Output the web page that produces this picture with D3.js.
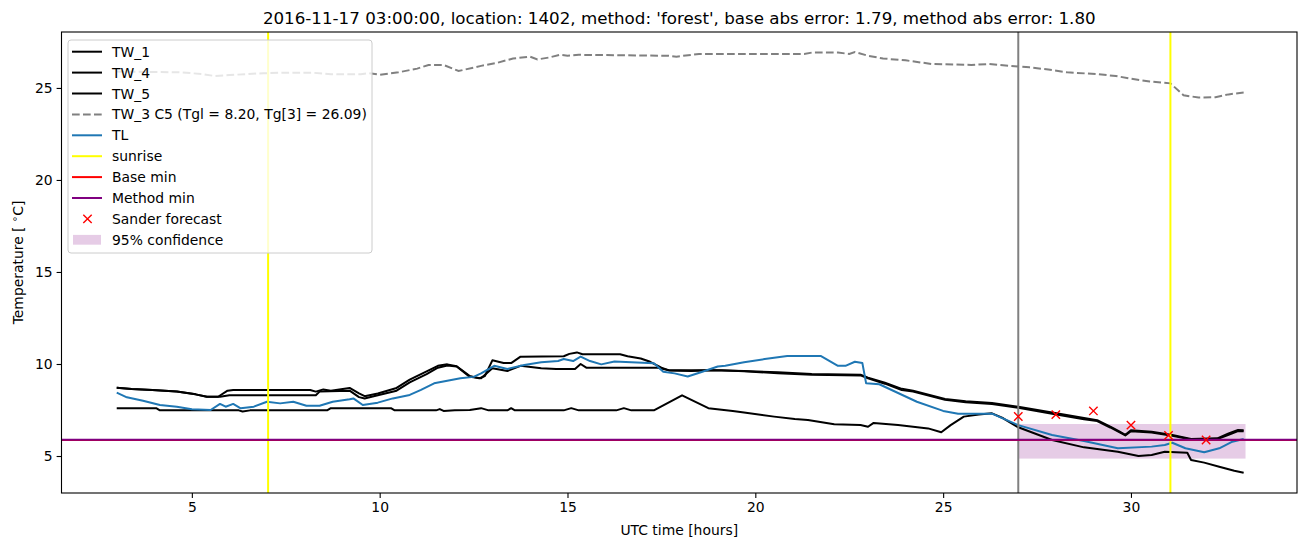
<!DOCTYPE html>
<html>
<head>
<meta charset="utf-8">
<script src="https://cdn.jsdelivr.net/npm/d3@7"></script>
<style>
  body { margin: 0; background: #fff; }
  svg { font-family: "DejaVu Sans", sans-serif; }
</style>
</head>
<body>
<script>
// data, [hour, temperature]
var tw1 = [[3,8.71],[3.4,8.64],[3.95,8.59],[4.6,8.5],[5.1,8.35],[5.4,8.22],[5.7,8.22],[5.95,8.55],[6.1,8.59],[8.15,8.59],[8.3,8.5],[8.5,8.62],[8.7,8.55],[9.2,8.7],[9.45,8.4],[9.6,8.25],[9.95,8.4],[10.45,8.7],[10.8,9.15],[11.25,9.6],[11.55,9.9],[11.8,9.98],[12.05,9.88],[12.4,9.35],[12.65,9.22],[12.8,9.35],[13.0,10.2],[13.3,10.05],[13.5,10.05],[13.75,10.4],[14.9,10.42],[15.05,10.55],[15.25,10.63],[15.4,10.53],[16.4,10.53],[16.6,10.42],[16.95,10.3],[17.2,10.12],[17.5,9.8],[17.7,9.65],[18.3,9.62],[18.8,9.66],[19.7,9.62],[20.6,9.55],[21.5,9.46],[22.8,9.42],[23.0,9.26],[23.45,8.98],[23.9,8.65],[24.2,8.55],[25.05,8.1],[25.6,7.97],[26.3,7.88],[27.0,7.68],[27.9,7.36],[28.75,7.06],[29.1,6.95],[29.45,6.6],[29.7,6.32],[29.85,6.15],[30.0,6.4],[30.55,6.32],[31.1,6.14],[31.6,5.92],[32.3,5.96],[32.6,6.23],[32.85,6.42],[33.0,6.4]];
var tw4 = [[3,8.71],[3.4,8.64],[3.95,8.59],[4.6,8.5],[5.1,8.35],[5.4,8.22],[5.75,8.22],[6.0,8.3],[8.3,8.3],[8.4,8.5],[9.2,8.55],[9.45,8.2],[9.6,8.13],[9.95,8.3],[10.45,8.55],[10.8,9.0],[11.25,9.45],[11.55,9.8],[11.8,9.92],[12.05,9.86],[12.4,9.3],[12.7,9.22],[13.0,9.77],[13.4,9.62],[13.75,9.9],[14.3,9.77],[14.7,9.73],[15.2,9.73],[15.35,10.0],[15.5,9.8],[17.4,9.8],[17.7,9.66],[19.1,9.66],[19.7,9.6],[20.6,9.5],[21.5,9.42],[22.8,9.38],[23.0,9.22],[23.45,8.93],[23.9,8.58],[24.2,8.5],[25.05,8.05],[25.6,7.92],[26.3,7.82],[27.0,7.62],[27.9,7.3],[28.75,7.0],[29.1,6.9],[29.45,6.55],[29.7,6.28],[29.85,6.12],[30.0,6.35],[30.55,6.28],[31.1,6.1],[31.6,5.9],[32.3,5.92],[32.6,6.15],[32.85,6.35],[33.0,6.35]];
var tw5 = [[3,7.6],[4.05,7.6],[4.15,7.48],[6.25,7.48],[6.35,7.42],[6.55,7.48],[8.6,7.48],[8.7,7.6],[10.3,7.6],[10.4,7.48],[11.5,7.48],[11.6,7.55],[11.7,7.45],[12.0,7.48],[12.4,7.5],[12.7,7.6],[12.9,7.48],[13.4,7.48],[13.5,7.6],[13.6,7.48],[14.9,7.48],[15.1,7.6],[15.3,7.48],[16.3,7.48],[16.5,7.6],[16.7,7.48],[17.3,7.48],[18.05,8.3],[18.75,7.6],[19.4,7.45],[19.7,7.36],[20.5,7.14],[21.05,7.01],[21.4,6.96],[22.1,6.72],[22.8,6.68],[23.0,6.59],[23.15,6.8],[23.8,6.68],[24.6,6.5],[24.95,6.29],[25.2,6.68],[25.55,7.14],[25.95,7.25],[26.3,7.32],[26.6,7.05],[27.0,6.56],[27.9,5.87],[28.75,5.47],[29.65,5.23],[30.2,5.0],[30.55,5.05],[30.9,5.23],[31.5,5.18],[31.6,4.78],[31.95,4.64],[32.35,4.42],[32.75,4.2],[33.0,4.09]];
var tw3 = [[3,25.89],[4.7,25.85],[5.3,25.75],[5.6,25.65],[6.0,25.7],[6.9,25.8],[7.3,25.82],[8.2,25.83],[8.7,25.74],[9.5,25.74],[9.7,25.8],[10.0,25.72],[10.5,25.85],[11.0,26.05],[11.3,26.25],[11.7,26.25],[12.1,25.92],[12.7,26.2],[13.1,26.35],[13.55,26.6],[14.0,26.7],[14.2,26.55],[14.5,26.65],[14.8,26.8],[15.0,26.75],[15.3,26.8],[17.7,26.75],[17.9,26.7],[18.5,26.85],[21.3,26.85],[21.5,26.92],[22.2,26.92],[22.5,26.85],[22.65,26.95],[23.0,26.75],[23.4,26.6],[24.0,26.5],[24.7,26.3],[25.75,26.25],[26.2,26.3],[26.8,26.2],[27.3,26.12],[27.8,26.0],[28.3,25.85],[29.1,25.75],[29.6,25.65],[30.0,25.5],[30.5,25.35],[31.05,25.25],[31.4,24.6],[31.8,24.48],[32.25,24.5],[32.6,24.65],[33.0,24.75]];
var tl = [[3,8.44],[3.27,8.19],[3.7,8.0],[4.15,7.77],[4.6,7.68],[5.0,7.54],[5.5,7.5],[5.75,7.83],[5.9,7.68],[6.1,7.83],[6.3,7.59],[6.65,7.68],[7.0,7.95],[7.35,7.86],[7.7,7.95],[8.05,7.73],[8.4,7.73],[8.75,7.95],[9.2,8.08],[9.3,8.13],[9.55,7.77],[9.95,7.9],[10.35,8.13],[10.8,8.32],[11.1,8.59],[11.45,8.95],[11.8,9.09],[12.15,9.22],[12.5,9.3],[12.7,9.49],[13.05,9.9],[13.4,9.73],[13.85,9.95],[14.3,10.09],[14.75,10.16],[14.9,10.27],[15.15,10.16],[15.35,10.4],[15.6,10.16],[15.9,9.98],[16.25,10.13],[17.3,10.04],[17.55,9.58],[17.85,9.49],[18.2,9.32],[18.55,9.55],[19.0,9.86],[19.2,9.9],[19.7,10.09],[20.25,10.27],[20.85,10.43],[21.75,10.43],[22.2,9.9],[22.4,9.9],[22.65,10.12],[22.85,10.05],[22.95,8.95],[23.3,8.9],[24.3,7.95],[25.0,7.45],[25.4,7.3],[26.3,7.3],[27.0,6.68],[27.9,6.14],[28.75,5.82],[29.65,5.42],[30.55,5.51],[30.9,5.6],[31.1,5.72],[31.45,5.42],[31.95,5.2],[32.35,5.42],[32.7,5.78],[33.0,5.92]];

var forecastHours = [27, 28, 29, 30, 31, 32];
var forecastTemps = [7.15, 7.25, 7.45, 6.68, 6.12, 5.87];
var sunrise = [7.03, 31.05];
var nowHour = 27;
var baseMin = 5.87;
var methodMin = 5.88;
var confidence = { from: 27, to: 33.05, low: 4.86, high: 6.74 };

var xTicks = [5, 10, 15, 20, 25, 30];
var yTicks = [5, 10, 15, 20, 25];

var titleText = "2016-11-17 03:00:00, location: 1402, method: 'forest', base abs error: 1.79, method abs error: 1.80";
var legendLabels = ["TW_1", "TW_4", "TW_5", "TW_3 C5 (Tgl = 8.20, Tg[3] = 26.09)", "TL", "sunrise", "Base min", "Method min", "Sander forecast", "95% confidence"];

//setup
var W = 1310, H = 547;
var margin = { top: 32, bottom: 54, right: 13, left: 61.5 };
var width = W - margin.left - margin.right;
var height = H - margin.top - margin.bottom;

var svg = d3.select("body").append("svg")
    .attr("width", W)
    .attr("height", H);

var g = svg.append("g")
    .attr("transform", "translate(" + margin.left + "," + margin.top + ")");

var x = d3.scaleLinear().domain([1.53, 34.42]).range([0, width]);
var y = d3.scaleLinear().domain([2.99, 28.04]).range([height, 0]);

g.append("clipPath").attr("id", "clip")
    .append("rect").attr("width", width).attr("height", height);
var plot = g.append("g").attr("clip-path", "url(#clip)");

var line = d3.line()
    .x(function (d) { return x(d[0]); })
    .y(function (d) { return y(d[1]); });

// confidence band
plot.append("rect")
    .attr("x", x(confidence.from))
    .attr("width", x(confidence.to) - x(confidence.from))
    .attr("y", y(confidence.high))
    .attr("height", y(confidence.low) - y(confidence.high))
    .attr("fill", "purple")
    .attr("fill-opacity", 0.2);

// black TW lines
[tw1, tw4, tw5].forEach(function (s) {
    plot.append("path").datum(s)
        .attr("fill", "none")
        .attr("stroke", "black")
        .attr("stroke-width", 2)
        .attr("stroke-linejoin", "round")
        .attr("d", line);
});

plot.append("path").datum(tw3)
    .attr("fill", "none")
    .attr("stroke", "grey")
    .attr("stroke-width", 2)
    .attr("stroke-dasharray", "7.7,3.3")
    .attr("d", line);

plot.append("path").datum(tl)
    .attr("fill", "none")
    .attr("stroke", "#1f77b4")
    .attr("stroke-width", 2)
    .attr("stroke-linejoin", "round")
    .attr("d", line);

// now marker
plot.append("line")
    .attr("x1", x(nowHour)).attr("x2", x(nowHour))
    .attr("y1", 0).attr("y2", height)
    .attr("stroke", "grey").attr("stroke-width", 2);

sunrise.forEach(function (h) {
    plot.append("line")
        .attr("x1", x(h)).attr("x2", x(h))
        .attr("y1", 0).attr("y2", height)
        .attr("stroke", "yellow").attr("stroke-width", 2);
});

plot.append("line")
    .attr("x1", 0).attr("x2", width)
    .attr("y1", y(baseMin)).attr("y2", y(baseMin))
    .attr("stroke", "red").attr("stroke-width", 2);
plot.append("line")
    .attr("x1", 0).attr("x2", width)
    .attr("y1", y(methodMin)).attr("y2", y(methodMin))
    .attr("stroke", "purple").attr("stroke-width", 2);

// forecast crosses
var cross = function (sel, cx, cy, r) {
    sel.append("path")
        .attr("d", "M" + (cx - r) + "," + (cy - r) + "L" + (cx + r) + "," + (cy + r) +
                   "M" + (cx - r) + "," + (cy + r) + "L" + (cx + r) + "," + (cy - r))
        .attr("stroke", "red").attr("stroke-width", 1.4).attr("fill", "none");
};
forecastHours.forEach(function (h, i) {
    cross(plot, x(h), y(forecastTemps[i]), 4.2);
});

// axes
var xAxis = g.append("g")
    .attr("transform", "translate(0," + height + ")")
    .call(d3.axisBottom(x).tickValues(xTicks).tickSize(4.9).tickPadding(4));
var yAxis = g.append("g")
    .call(d3.axisLeft(y).tickValues(yTicks).tickSize(4.9).tickPadding(4));
[xAxis, yAxis].forEach(function (a) {
    a.select(".domain").remove();
    a.selectAll("text").attr("font-size", 13.9).attr("fill", "black")
        .attr("font-family", "DejaVu Sans");
    a.selectAll("line").attr("stroke", "black").attr("stroke-width", 1.1);
});

g.append("rect")
    .attr("width", width).attr("height", height)
    .attr("fill", "none").attr("stroke", "black").attr("stroke-width", 1.1);

// titles
svg.append("text")
    .attr("x", margin.left + width / 2).attr("y", 24)
    .attr("text-anchor", "middle").attr("font-size", 16.7)
    .text(titleText);
svg.append("text")
    .attr("x", margin.left + width / 2).attr("y", 535)
    .attr("text-anchor", "middle").attr("font-size", 13.9)
    .text("UTC time [hours]");
var yl = svg.append("text")
    .attr("transform", "translate(23," + (margin.top + height / 2) + ") rotate(-90)")
    .attr("text-anchor", "middle").attr("font-size", 13.9);
yl.append("tspan").text("Temperature [ ");
yl.append("tspan").attr("font-size", 10).attr("dy", -5).text("\u2218");
yl.append("tspan").attr("dy", 5).text("C]");

// legend
var leg = svg.append("g").attr("transform", "translate(68,40)");
leg.append("rect")
    .attr("width", 304).attr("height", 213).attr("rx", 3)
    .attr("fill", "white").attr("fill-opacity", 0.8)
    .attr("stroke", "#cccccc").attr("stroke-width", 1);

var handles = [
    { color: "black" }, { color: "black" }, { color: "black" },
    { color: "grey", dash: "7.7,3.3" }, { color: "#1f77b4" }, { color: "yellow" },
    { color: "red" }, { color: "purple" }, { marker: true }, { patch: true }
];
handles.forEach(function (h, i) {
    var cy = 11.7 + i * 20.9;
    if (h.marker) {
        cross(leg, 19.5, cy, 4.2);
    } else if (h.patch) {
        leg.append("rect").attr("x", 5).attr("y", cy - 4.9).attr("width", 28).attr("height", 9.8)
            .attr("fill", "purple").attr("fill-opacity", 0.2);
    } else {
        leg.append("line").attr("x1", 4).attr("x2", 34).attr("y1", cy).attr("y2", cy)
            .attr("stroke", h.color).attr("stroke-width", 2)
            .attr("stroke-dasharray", h.dash || null);
    }
    leg.append("text").attr("x", 44).attr("y", cy + 5)
        .attr("font-size", 13.9).text(legendLabels[i]);
});
</script>
</body>
</html>
